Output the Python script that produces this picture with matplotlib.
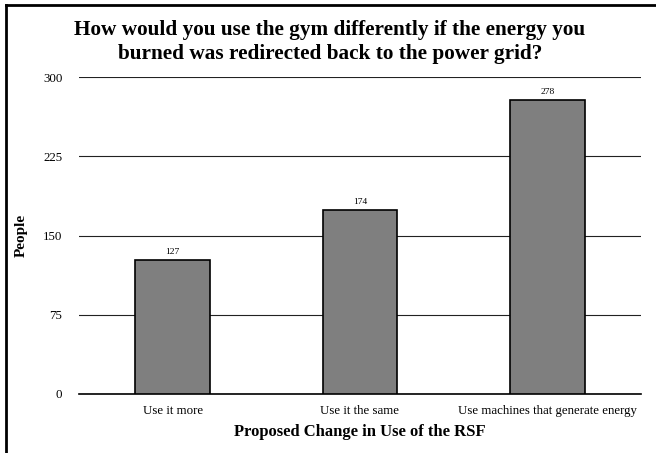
import matplotlib.pyplot as plt
from matplotlib.lines import Line2D

categories = ["Use it more", "Use it the same", "Use machines that generate energy"]
people = [127, 174, 278]
yticks = [0, 75, 150, 225, 300]

plt.rcParams["font.family"] = ["Liberation Serif", "DejaVu Serif"]

fig = plt.figure(figsize=(6.56, 4.53), dpi=100)
ax = fig.add_axes([79 / 656, 1 - 394 / 453, (641 - 79) / 656, (394 - 77) / 453])

x = range(len(categories))
bars = ax.bar(x, people, width=0.4, color="#7f7f7f", edgecolor="black",
              linewidth=1.2, zorder=3)
for b, v in zip(bars, people):
    ax.text(b.get_x() + b.get_width() / 2, v + 4, str(v), ha="center",
            va="bottom", fontsize=6.8)

ax.set_xlim(-0.5, len(categories) - 0.5)
ax.set_ylim(0, 300)
ax.set_yticks(yticks)
ax.set_yticklabels([str(t) for t in yticks], fontsize=9.3)
ax.set_xticks(list(x))
ax.set_xticklabels(categories, fontsize=9.3)
ax.tick_params(length=0, pad=12, axis="y")
ax.tick_params(length=0, pad=8, axis="x")
ax.yaxis.grid(True, color="#222222", linewidth=0.8, zorder=0)
for s in ["top", "right", "left"]:
    ax.spines[s].set_visible(False)
ax.spines["bottom"].set_linewidth(1.2)

ax.set_xlabel("Proposed Change in Use of the RSF", fontsize=12, fontweight="bold",
              labelpad=5)
ax.set_ylabel("People", fontsize=11, fontweight="bold", labelpad=11)

fig.text(330 / 656, 1 - 42 / 453,
         "How would you use the gym differently if the energy you\n"
         "burned was redirected back to the power grid?",
         ha="center", va="center", fontsize=15.3, fontweight="bold",
         linespacing=1.25)

# frame edges on the left and top
fig.add_artist(Line2D([6 / 656, 6 / 656], [0, 1 - 5 / 453], color="black",
                      linewidth=2, transform=fig.transFigure))
fig.add_artist(Line2D([6 / 656, 1], [1 - 5 / 453, 1 - 5 / 453], color="black",
                      linewidth=2, transform=fig.transFigure))

fig.savefig("out.png", dpi=100)
